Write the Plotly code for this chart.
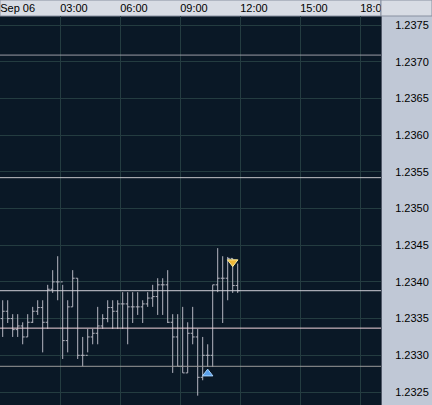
import plotly.graph_objects as go

# ---------------- data ----------------
bar_times = ["00:00", "00:15", "00:30", "00:45", "01:00", "01:15", "01:30", "01:45",
             "02:00", "02:15", "02:30", "02:45", "03:00", "03:15", "03:30", "03:45",
             "04:00", "04:15", "04:30", "04:45", "05:00", "05:15", "05:30", "05:45",
             "06:00", "06:15", "06:30", "06:45", "07:00", "07:15", "07:30", "07:45",
             "08:00", "08:15", "08:30", "08:45", "09:00", "09:15", "09:30", "09:45",
             "10:00", "10:15", "10:30", "10:45", "11:00", "11:15", "11:30", "11:45"]

open_p = [1.23350, 1.23360, 1.23350, 1.23335, 1.23340, 1.23325, 1.23345, 1.23360,
          1.23365, 1.23345, 1.23390, 1.23400, 1.23400, 1.23320, 1.23366, 1.23405,
          1.23300, 1.23300, 1.23325, 1.23330, 1.23340, 1.23350, 1.23365, 1.23360,
          1.23370, 1.23370, 1.23366, 1.23366, 1.23366, 1.23370, 1.23378, 1.23380,
          1.23396, 1.23396, 1.23345, 1.23325, 1.23285, 1.23276, 1.23330, 1.23325,
          1.23270, 1.23300, 1.23300, 1.23396, 1.23405, 1.23405, 1.23432, 1.23395]
high_p = [1.23375, 1.23375, 1.23356, 1.23356, 1.23345, 1.23356, 1.23366, 1.23375,
          1.23375, 1.23396, 1.23416, 1.23435, 1.23396, 1.23375, 1.23416, 1.23405,
          1.23325, 1.23336, 1.23336, 1.23366, 1.23356, 1.23375, 1.23375, 1.23375,
          1.23386, 1.23386, 1.23386, 1.23386, 1.23375, 1.23386, 1.23396, 1.23405,
          1.23405, 1.23416, 1.23356, 1.23356, 1.23366, 1.23345, 1.23366, 1.23336,
          1.23325, 1.23315, 1.23396, 1.23446, 1.23435, 1.23434, 1.23432, 1.23425]
low_p = [1.23325, 1.23344, 1.23325, 1.23325, 1.23315, 1.23325, 1.23344, 1.23355,
         1.23304, 1.23336, 1.23385, 1.23375, 1.23295, 1.23304, 1.23366, 1.23295,
         1.23285, 1.23304, 1.23315, 1.23315, 1.23336, 1.23345, 1.23336, 1.23336,
         1.23336, 1.23315, 1.23344, 1.23355, 1.23344, 1.23366, 1.23366, 1.23355,
         1.23355, 1.23344, 1.23276, 1.23285, 1.23276, 1.23276, 1.23315, 1.23245,
         1.23266, 1.23284, 1.23284, 1.23386, 1.23344, 1.23375, 1.23385, 1.23385]
close_p = [1.23360, 1.23350, 1.23335, 1.23340, 1.23325, 1.23345, 1.23360, 1.23365,
           1.23345, 1.23390, 1.23400, 1.23400, 1.23320, 1.23366, 1.23405, 1.23300,
           1.23300, 1.23325, 1.23330, 1.23340, 1.23350, 1.23365, 1.23360, 1.23370,
           1.23370, 1.23366, 1.23366, 1.23366, 1.23370, 1.23378, 1.23380, 1.23396,
           1.23396, 1.23345, 1.23325, 1.23285, 1.23276, 1.23330, 1.23325, 1.23270,
           1.23300, 1.23300, 1.23396, 1.23405, 1.23405, 1.23432, 1.23395, 1.23388]

level_prices = [1.23709, 1.23542, 1.23388, 1.23337, 1.23285]

sell_signal_time = ["11:30"]
sell_signal_price = [1.23427]
buy_signal_time = ["10:15"]
buy_signal_price = [1.23275]

time_tick_hours = [0, 3, 6, 9, 12, 15, 18]
time_tick_labels = ["Sep 06", "03:00", "06:00", "09:00", "12:00", "15:00", "18:00"]


def to_hours(t):
    h, m = t.split(":")
    # bar drawn in the middle of its 15-minute period
    return int(h) + int(m) / 60 + 7.5 / 60


bar_x = [to_hours(t) for t in bar_times]

# ---------------- styles ----------------
BAR_COLOR = "#b6b6c0"
BG_DARK = "#0a1826"
GRID = "#243c40"
PANEL = "#c0c8d6"
HEADER = "#d8dce4"
FONT = dict(family="Liberation Sans, Arial, sans-serif", size=11, color="#000000")
level_colors = ["#9c9ca4", "#c4c4c8", "#d0d0d8", "#f2d4dc", "#9a9a9a"]

fig = go.Figure()

fig.add_trace(go.Ohlc(
    x=bar_x, open=open_p, high=high_p, low=low_p, close=close_p,
    increasing=dict(line=dict(color=BAR_COLOR, width=1)),
    decreasing=dict(line=dict(color=BAR_COLOR, width=1)),
    tickwidth=0.4, hoverinfo="skip", showlegend=False,
))

fig.add_trace(go.Scatter(
    x=[to_hours(t) for t in sell_signal_time], y=sell_signal_price, mode="markers",
    marker=dict(symbol="triangle-down", size=9, color="#f0b838",
                line=dict(color="#fff0a0", width=1)),
    hoverinfo="skip", showlegend=False,
))
fig.add_trace(go.Scatter(
    x=[to_hours(t) for t in buy_signal_time], y=buy_signal_price, mode="markers",
    marker=dict(symbol="triangle-up", size=9, color="#5aa0ea",
                line=dict(color="#a8d4ff", width=1)),
    hoverinfo="skip", showlegend=False,
))

shapes = []
# header band
shapes.append(dict(type="rect", xref="paper", yref="paper", x0=0, x1=1, y0=1, y1=1 + 16 / 389,
                   fillcolor=HEADER, line=dict(color="#8890a0", width=1), layer="below"))
for p, c in zip(level_prices, level_colors):
    shapes.append(dict(type="line", xref="x domain", yref="y", x0=0, x1=1, y0=p, y1=p,
                       line=dict(color=c, width=1), layer="above"))
# top-right corner box (clips the last time label)
shapes.append(dict(type="rect", xref="paper", yref="paper", x0=1, x1=1 + 51 / 381,
                   y0=1, y1=1 + 16 / 389, fillcolor=HEADER,
                   line=dict(color="#8890a0", width=1), layer="above"))

x0 = -0.01
fig.update_layout(
    width=432, height=405,
    margin=dict(l=0, r=51, t=16, b=0, pad=0, autoexpand=False),
    paper_bgcolor=PANEL, plot_bgcolor=BG_DARK,
    font=FONT,
    shapes=shapes,
    xaxis=dict(
        side="top", range=[x0, x0 + 381 / 20], tickmode="array",
        tickvals=time_tick_hours, ticktext=time_tick_labels,
        ticklabelposition="outside right", ticks="", ticklabelstandoff=1,
        showgrid=True, gridcolor=GRID, gridwidth=1, zeroline=False,
        rangeslider=dict(visible=False), tickfont=FONT, automargin=False,
        showline=False,
    ),
    yaxis=dict(
        side="right", range=[1.2323229, 1.2376226], dtick=0.0005, tick0=1.2325,
        tickformat=".4f", ticks="", ticklabelstandoff=11, automargin=False,
        showgrid=True, gridcolor=GRID, gridwidth=1, zeroline=False, tickfont=FONT,
        showline=True, linecolor="#505868", linewidth=1,
    ),
)

fig.write_html(
    "out.html",
    config={"displayModeBar": False},
    post_script="document.body.style.margin='0';document.body.style.overflow='hidden';",
)
